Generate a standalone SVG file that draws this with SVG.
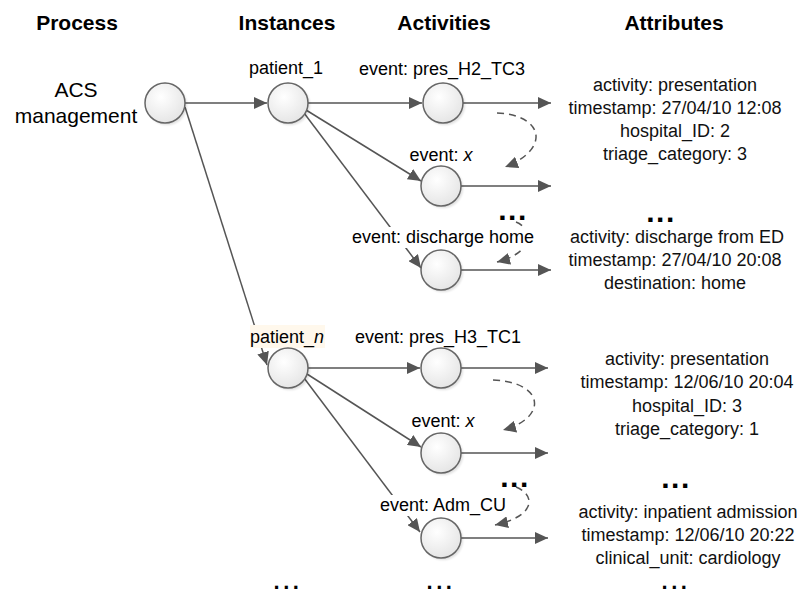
<svg xmlns="http://www.w3.org/2000/svg" width="799" height="594" viewBox="0 0 799 594">
  <style>
    .head { font-family: "Liberation Sans", Arial, sans-serif; font-size: 21px; font-weight: bold; fill: #000; text-anchor: middle; }
    .proc { font-family: "Liberation Sans", Arial, sans-serif; font-size: 21px; fill: #000; text-anchor: middle; }
    .lbl { font-family: "Liberation Sans", Arial, sans-serif; font-size: 18px; fill: #000; text-anchor: middle; }
    .attr { font-family: "Liberation Sans", Arial, sans-serif; font-size: 18px; fill: #111; text-anchor: middle; }
    .dots { font-family: "Liberation Sans", Arial, sans-serif; font-size: 30px; font-weight: bold; fill: #000; text-anchor: middle; letter-spacing: 1.5px; }
    .dots-end { font-family: "Liberation Sans", Arial, sans-serif; font-size: 22px; font-weight: bold; fill: #000; text-anchor: middle; letter-spacing: 3.5px; }
    .edge { fill: none; stroke: #555; stroke-width: 1.5; marker-end: url(#arrow); }
    .dash { fill: none; stroke: #555; stroke-width: 1.5; stroke-dasharray: 7 5; marker-end: url(#arrow); }
    .node { fill: url(#nodeFill); stroke: #666; stroke-width: 1.5; }
    .shadow { fill: #000; opacity: 0.12; filter: url(#soft); }
  </style>
  <defs>
    <radialGradient id="nodeFill" cx="0.4" cy="0.35" r="0.7">
      <stop offset="0" stop-color="#ffffff"/>
      <stop offset="1" stop-color="#e4e4e4"/>
    </radialGradient>
    <filter id="soft" x="-30%" y="-30%" width="160%" height="160%">
      <feGaussianBlur stdDeviation="1.2"/>
    </filter>
    <marker id="arrow" markerUnits="userSpaceOnUse" markerWidth="14" markerHeight="12" refX="13" refY="6" orient="auto">
      <path d="M0,0 L13,6 L0,12 z" fill="#555"/>
    </marker>
  </defs>

  <rect width="799" height="594" fill="#fff"/>

  <!-- column headings -->
  <g id="headings">
    <text class="head" x="77" y="30">Process</text>
    <text class="head" x="287" y="30">Instances</text>
    <text class="head" x="444" y="30">Activities</text>
    <text class="head" x="674" y="30">Attributes</text>
  </g>

  <!-- connectors -->
  <g id="connectors">
    <path class="edge" d="M185,103 L267,103"/>
    <path class="edge" d="M185,107 L267,365"/>
    <path class="edge" d="M308,103 L422,103"/>
    <path class="edge" d="M306,110 L421,181"/>
    <path class="edge" d="M304,113 L421,268"/>
    <path class="edge" d="M308,368 L420,368"/>
    <path class="edge" d="M307,374 L421,447"/>
    <path class="edge" d="M304,378 L420,532"/>
    <path class="edge" d="M463,103 L551,103"/>
    <path class="edge" d="M461,186 L551,186"/>
    <path class="edge" d="M461,270 L551,270"/>
    <path class="edge" d="M461,368 L548,368"/>
    <path class="edge" d="M461,453 L548,453"/>
    <path class="edge" d="M461,538 L548,538"/>
    <path class="dash" d="M497,113 C545,115 550,150 505,167"/>
    <path class="dash" d="M516,222 C532,228 536,252 497,262"/>
    <path class="dash" d="M493,380 C545,382 548,418 503,430"/>
    <path class="dash" d="M516,487 C536,495 536,516 495,525"/>
  </g>

  <!-- process -->
  <g id="process">
    <text class="proc" x="76" y="97">ACS</text>
    <text class="proc" x="76" y="123">management</text>
    <circle class="shadow" cx="167" cy="105" r="20"/>
    <circle class="node" cx="165" cy="103" r="20"/>
  </g>

  <!-- instances -->
  <g id="patient_1">
    <text class="lbl" x="286" y="74">patient_1</text>
    <circle class="shadow" cx="290" cy="105" r="20"/>
    <circle class="node" cx="288" cy="103" r="20"/>
  </g>
  <g id="patient_n">
    <rect x="250" y="325" width="75" height="23" fill="#fff8ec"/>
    <text class="lbl" x="287" y="343">patient_<tspan font-style="italic">n</tspan></text>
    <circle class="shadow" cx="290" cy="370" r="20"/>
    <circle class="node" cx="288" cy="368" r="20"/>
  </g>

  <!-- activities of patient_1 -->
  <g id="act_pres_H2_TC3">
    <text class="lbl" x="442" y="75">event: pres_H2_TC3</text>
    <circle class="shadow" cx="445" cy="105" r="20"/>
    <circle class="node" cx="443" cy="103" r="20"/>
  </g>
  <g id="act_x_1">
    <text class="lbl" x="441" y="161">event: <tspan font-style="italic">x</tspan></text>
    <circle class="shadow" cx="443" cy="188" r="20"/>
    <circle class="node" cx="441" cy="186" r="20"/>
  </g>
  <g id="act_discharge_home">
    <rect x="350" y="227" width="187" height="21" fill="#fff"/>
    <text class="lbl" x="443" y="243">event: discharge home</text>
    <circle class="shadow" cx="443" cy="272" r="20"/>
    <circle class="node" cx="441" cy="270" r="20"/>
  </g>

  <!-- activities of patient_n -->
  <g id="act_pres_H3_TC1">
    <text class="lbl" x="438" y="343">event: pres_H3_TC1</text>
    <circle class="shadow" cx="443" cy="370" r="20"/>
    <circle class="node" cx="441" cy="368" r="20"/>
  </g>
  <g id="act_x_n">
    <text class="lbl" x="443" y="427">event: <tspan font-style="italic">x</tspan></text>
    <circle class="shadow" cx="443" cy="455" r="20"/>
    <circle class="node" cx="441" cy="453" r="20"/>
  </g>
  <g id="act_Adm_CU">
    <rect x="379" y="495" width="129" height="21" fill="#fff"/>
    <text class="lbl" x="443" y="511">event: Adm_CU</text>
    <circle class="shadow" cx="443" cy="540" r="20"/>
    <circle class="node" cx="441" cy="538" r="20"/>
  </g>

  <!-- attribute blocks -->
  <g id="attr_pres_H2_TC3">
    <text class="attr" x="675" y="91">activity: presentation</text>
    <text class="attr" x="675" y="114">timestamp: 27/04/10 12:08</text>
    <text class="attr" x="675" y="137">hospital_ID: 2</text>
    <text class="attr" x="675" y="160">triage_category: 3</text>
  </g>
  <g id="attr_discharge_home">
    <text class="attr" x="677" y="243">activity: discharge from ED</text>
    <text class="attr" x="675" y="266">timestamp: 27/04/10 20:08</text>
    <text class="attr" x="675" y="289">destination: home</text>
  </g>
  <g id="attr_pres_H3_TC1">
    <text class="attr" x="687" y="365">activity: presentation</text>
    <text class="attr" x="687" y="388">timestamp: 12/06/10 20:04</text>
    <text class="attr" x="687" y="412">hospital_ID: 3</text>
    <text class="attr" x="687" y="435">triage_category: 1</text>
  </g>
  <g id="attr_Adm_CU">
    <text class="attr" x="688" y="518">activity: inpatient admission</text>
    <text class="attr" x="688" y="541">timestamp: 12/06/10 20:22</text>
    <text class="attr" x="688" y="564">clinical_unit: cardiology</text>
  </g>

  <!-- continuation marks -->
  <g id="ellipses">
    <text class="dots" x="513" y="220">...</text>
    <text class="dots" x="661" y="222">...</text>
    <text class="dots" x="515" y="487">...</text>
    <text class="dots" x="676" y="488">...</text>
    <text class="dots-end" x="288" y="589">...</text>
    <text class="dots-end" x="441" y="589">...</text>
    <text class="dots-end" x="676" y="589">...</text>
  </g>
</svg>
